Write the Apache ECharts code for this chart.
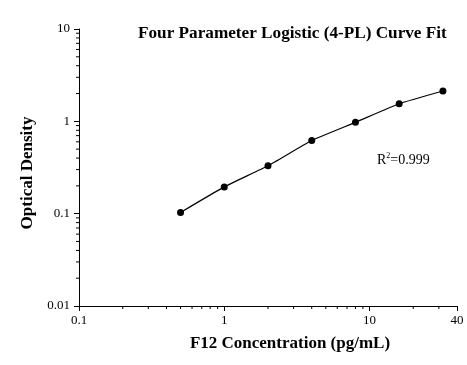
<!DOCTYPE html>
<html>
<head>
<meta charset="utf-8">
<script src="https://cdn.jsdelivr.net/npm/echarts@6/dist/echarts.min.js"></script>
<style>html,body{margin:0;padding:0;background:#fff}#c{width:467px;height:365px}</style>
</head>
<body>
<div id="c"></div>
<script>
var concentrations = [0.5, 1, 2, 4, 8, 16, 32];
var odValues = [0.103, 0.195, 0.33, 0.62, 0.975, 1.55, 2.13];
var xMinorTicks = [0.2, 0.3, 0.4, 0.5, 0.6, 0.7, 0.8, 0.9, 2, 3, 4, 5, 6, 7, 8, 9, 20, 30];
var yMinorTicks = [0.02, 0.03, 0.04, 0.05, 0.06, 0.07, 0.08, 0.09, 0.2, 0.3, 0.4, 0.5, 0.6, 0.7, 0.8, 0.9, 2, 3, 4, 5, 6, 7, 8, 9];
var xMin = 0.1, xMax = 40, yMin = 0.01, yMax = 10;

var serif = 'Liberation Serif';
var chart = echarts.init(document.getElementById('c'), null, {renderer: 'canvas'});

function minorTickRender(dir) {
  return function (params, api) {
    var p = api.coord([api.value(0), api.value(1)]);
    var len = 3;
    var shape = dir === 'x'
      ? {x1: p[0], y1: p[1], x2: p[0], y2: p[1] + len}
      : {x1: p[0], y1: p[1], x2: p[0] - len, y2: p[1]};
    return {type: 'line', shape: shape, style: {stroke: '#000', lineWidth: 1}};
  };
}

chart.setOption({
  animation: false,
  backgroundColor: '#fff',
  grid: {left: 79, right: 10, top: 29, bottom: 59, containLabel: false},
  title: [
    {
      text: 'Four Parameter Logistic (4-PL) Curve Fit',
      left: 138, top: 25, padding: 0,
      textStyle: {fontFamily: serif, fontWeight: 'bold', fontSize: 17.2, color: '#000'}
    },
    {
      text: '{r|R}{s|2}{r|=0.999}',
      left: 377, top: 152, padding: 0,
      textStyle: {
        fontWeight: 'normal',
        rich: {
          r: {fontFamily: serif, fontSize: 14, fontWeight: 'normal', color: '#000', verticalAlign: 'bottom'},
          s: {fontFamily: serif, fontSize: 8, fontWeight: 'normal', color: '#000', verticalAlign: 'top', padding: [0, 0, 7, 0]}
        }
      }
    }
  ],
  xAxis: {
    type: 'log', logBase: 10, min: xMin, max: xMax,
    name: 'F12 Concentration (pg/mL)',
    nameLocation: 'middle', nameGap: 29,
    nameTextStyle: {fontFamily: serif, fontWeight: 'bold', fontSize: 17, color: '#000', padding: [0, 0, 0, 44]},
    axisLine: {show: true, lineStyle: {color: '#000', width: 1}},
    axisTick: {show: true, inside: false, length: 5, lineStyle: {color: '#000'}},
    minorTick: {show: false},
    splitLine: {show: false},
    axisLabel: {
      fontFamily: serif, fontSize: 13, color: '#000', margin: 8,
      showMinLabel: true, showMaxLabel: true,
      formatter: function (v) { return String(+v.toPrecision(6)); }
    }
  },
  yAxis: {
    type: 'log', logBase: 10, min: yMin, max: yMax,
    name: 'Optical Density',
    nameLocation: 'middle', nameGap: 41,
    nameTextStyle: {fontFamily: serif, fontWeight: 'bold', fontSize: 17, color: '#000', padding: [0, 11, 0, 0]},
    axisLine: {show: true, lineStyle: {color: '#000', width: 1}},
    axisTick: {show: true, inside: false, length: 5, lineStyle: {color: '#000'}},
    minorTick: {show: false},
    splitLine: {show: false},
    axisLabel: {
      fontFamily: serif, fontSize: 13, color: '#000', margin: 9,
      formatter: function (v) { return String(+v.toPrecision(6)); }
    }
  },
  series: [
    {
      type: 'line',
      data: concentrations.map(function (c, i) { return [c, odValues[i]]; }),
      smooth: 0.15,
      symbol: 'circle', symbolSize: 7,
      itemStyle: {color: '#000'},
      lineStyle: {color: '#000', width: 1.2},
      z: 5
    },
    {
      type: 'custom', silent: true, clip: false,
      data: xMinorTicks.map(function (v) { return [v, yMin]; }),
      renderItem: minorTickRender('x')
    },
    {
      type: 'custom', silent: true, clip: false,
      data: yMinorTicks.map(function (v) { return [xMin, v]; }),
      renderItem: minorTickRender('y')
    }
  ]
});
</script>
</body>
</html>
